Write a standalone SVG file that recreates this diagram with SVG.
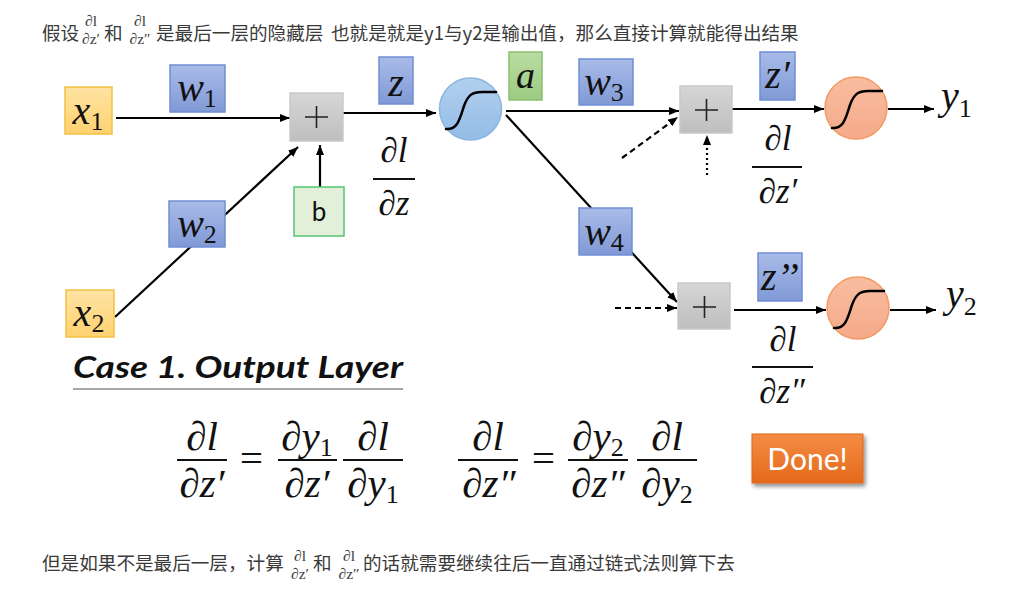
<svg xmlns="http://www.w3.org/2000/svg" width="1015" height="604" viewBox="0 0 1015 604">
<defs>
<linearGradient id="gX" x1="0" y1="0" x2="0" y2="1"><stop offset="0" stop-color="#FFE3A3"/><stop offset="1" stop-color="#FFD270"/></linearGradient>
<linearGradient id="gW" x1="0" y1="0" x2="0" y2="1"><stop offset="0" stop-color="#A9BBE8"/><stop offset="1" stop-color="#8099D6"/></linearGradient>
<linearGradient id="gP" x1="0" y1="0" x2="0" y2="1"><stop offset="0" stop-color="#D6D6D6"/><stop offset="1" stop-color="#BEBEBE"/></linearGradient>
<linearGradient id="gA" x1="0" y1="0" x2="0" y2="1"><stop offset="0" stop-color="#B9DCA2"/><stop offset="1" stop-color="#9CCB82"/></linearGradient>
<linearGradient id="gS" x1="0" y1="0" x2="0" y2="1"><stop offset="0" stop-color="#B2D0EE"/><stop offset="1" stop-color="#93BCE6"/></linearGradient>
<linearGradient id="gO" x1="0" y1="0" x2="0" y2="1"><stop offset="0" stop-color="#F9BDA0"/><stop offset="1" stop-color="#F5A98A"/></linearGradient>
<linearGradient id="gD" x1="0" y1="0" x2="0" y2="1"><stop offset="0" stop-color="#F38C44"/><stop offset="1" stop-color="#E5691B"/></linearGradient>
<filter id="shadow" x="-20%" y="-20%" width="150%" height="160%"><feGaussianBlur in="SourceAlpha" stdDeviation="2"/><feOffset dx="2" dy="3" result="b"/><feComponentTransfer><feFuncA type="linear" slope="0.45"/></feComponentTransfer><feMerge><feMergeNode/><feMergeNode in="SourceGraphic"/></feMerge></filter>
<marker id="arr" viewBox="0 0 10 8" markerWidth="10" markerHeight="8" refX="10" refY="4" orient="auto" markerUnits="userSpaceOnUse"><path d="M0,0 L10,4 L0,8 z" fill="#000"/></marker>
</defs>
<style>
.cjk{font-family:"Noto Sans CJK SC","Noto Sans",sans-serif;font-size:18.6px;fill:#3a3a3a}
.tm{font-family:"Liberation Serif",serif;font-size:15.5px;fill:#3a3a3a;text-anchor:middle}
.m{font-family:"Liberation Serif","DejaVu Serif",serif;font-style:italic;fill:#111}
.lab{font-size:40px;text-anchor:middle}
.sub{font-style:normal;font-size:26px}
.fr{font-size:35px;text-anchor:middle}
.eq{font-size:41px;text-anchor:middle}
.xbox{fill:url(#gX);stroke:#F4C046;stroke-width:1.5}
.wbox{fill:url(#gW);stroke:#6F8ED6;stroke-width:1.5}
.pbox{fill:url(#gP);stroke:#C9C9C9;stroke-width:1.5}
.plus{stroke:#222;stroke-width:1.6;fill:none}
.sig{stroke:#000;stroke-width:2.5;fill:none;stroke-linecap:round}
.ln{stroke:#000;stroke-width:2.2;fill:none}
.bar{stroke:#111;stroke-width:2}
</style>

<!-- top text -->
<g id="top-text">
<text class="cjk" x="42" y="40">假设</text>
<text class="tm" x="91" y="26">∂l</text>
<text class="tm" x="91" y="44">∂z′</text>
<text class="cjk" x="104" y="40">和</text>
<text class="tm" x="140" y="26">∂l</text>
<text class="tm" x="140" y="44">∂z″</text>
<text class="cjk" x="156" y="40">是最后一层的隐藏层</text>
<text class="cjk" x="331" y="40">也就是就是y1与y2是输出值，那么直接计算就能得出结果</text>
</g>

<!-- connectors -->
<g id="connectors">
<line class="ln" x1="116" y1="118" x2="290" y2="118" marker-end="url(#arr)"/>
<line class="ln" x1="115" y1="317" x2="298" y2="147" marker-end="url(#arr)"/>
<line class="ln" x1="320" y1="187" x2="320" y2="145" marker-end="url(#arr)"/>
<line class="ln" x1="343" y1="113" x2="436" y2="113" marker-end="url(#arr)"/>
<line class="ln" x1="506" y1="111" x2="679" y2="111" marker-end="url(#arr)"/>
<line class="ln" x1="506" y1="115" x2="677" y2="302" marker-end="url(#arr)"/>
<line class="ln" x1="622" y1="158" x2="678" y2="117" stroke-dasharray="6 4" marker-end="url(#arr)"/>
<line class="ln" x1="707" y1="175" x2="707" y2="135" stroke-dasharray="2 3" marker-end="url(#arr)"/>
<line class="ln" x1="615" y1="308" x2="677" y2="308" stroke-dasharray="6 4" marker-end="url(#arr)"/>
<line class="ln" x1="732" y1="109" x2="824" y2="109" marker-end="url(#arr)"/>
<line class="ln" x1="888" y1="109" x2="934" y2="109" marker-end="url(#arr)"/>
<line class="ln" x1="734" y1="310" x2="826" y2="310" marker-end="url(#arr)"/>
<line class="ln" x1="890" y1="310" x2="936" y2="310" marker-end="url(#arr)"/>
</g>

<g id="x1"><rect class="xbox" x="65" y="87" width="47" height="47"/><text class="m lab" x="88" y="124">x<tspan class="sub" dy="6">1</tspan></text></g>
<g id="x2"><rect class="xbox" x="66" y="290" width="48" height="47"/><text class="m lab" x="89" y="326">x<tspan class="sub" dy="6">2</tspan></text></g>
<g id="w1"><rect class="wbox" x="170" y="65" width="55" height="47"/><text class="m lab" x="197" y="101">w<tspan class="sub" dy="6">1</tspan></text></g>
<g id="w2"><rect class="wbox" x="169" y="201" width="56" height="46"/><text class="m lab" x="197" y="237">w<tspan class="sub" dy="6">2</tspan></text></g>
<g id="plus1"><rect class="pbox" x="290" y="93" width="53" height="48"/><path class="plus" d="M305,117 H328 M316.5,106 V128"/></g>
<g id="b"><rect x="294" y="187" width="50" height="49" fill="#E2F0D9" stroke="#54C473" stroke-width="1.5"/><text x="319" y="221" font-family="Lato,'Liberation Sans',sans-serif" font-size="26" text-anchor="middle" fill="#111">b</text></g>
<g id="z"><rect class="wbox" x="379" y="57" width="34" height="47"/><text class="m lab" x="396" y="96">z</text></g>
<g id="dldz"><text class="m fr" x="394" y="162">∂l</text><line class="bar" x1="373" y1="179" x2="415" y2="179"/><text class="m fr" x="394" y="215">∂z</text></g>
<g id="sigmoid1"><circle cx="470.5" cy="109" r="31" fill="url(#gS)" stroke="#8DB5E2" stroke-width="1.5"/><path class="sig" d="M446,129 C458,130 460,118 464,106 C468,95 472,92 482,92 L496,92"/></g>
<g id="a"><rect x="509" y="52" width="33" height="48" fill="url(#gA)" stroke="#8BC06E" stroke-width="1.5"/><text class="m" x="525.5" y="88" font-size="38" text-anchor="middle">a</text></g>
<g id="w3"><rect class="wbox" x="579" y="59" width="54" height="46"/><text class="m lab" x="604" y="95">w<tspan class="sub" dy="6">3</tspan></text></g>
<g id="w4"><rect class="wbox" x="579" y="208" width="53" height="47"/><text class="m lab" x="604" y="245">w<tspan class="sub" dy="6">4</tspan></text></g>
<g id="plus2"><rect class="pbox" x="680" y="86" width="52" height="47"/><path class="plus" d="M695,110 H718 M706.5,99 V121"/></g>
<g id="plus3"><rect class="pbox" x="678" y="283" width="52" height="46"/><path class="plus" d="M693,307 H716 M704.5,296 V318"/></g>
<g id="zp"><rect class="wbox" x="760" y="52" width="35" height="48"/><text class="m lab" x="777.5" y="88">z′</text></g>
<g id="zpp"><rect class="wbox" x="758" y="253" width="44" height="48"/><text class="m lab" x="780" y="290">z’’</text></g>
<g id="dldzp"><text class="m fr" x="778" y="150">∂l</text><line class="bar" x1="752" y1="167" x2="802" y2="167"/><text class="m fr" x="778" y="203">∂z′</text></g>
<g id="dldzpp"><text class="m fr" x="783" y="351">∂l</text><line class="bar" x1="752" y1="367" x2="813" y2="367"/><text class="m fr" x="782" y="403">∂z″</text></g>
<g id="sigmoid2"><circle cx="856" cy="108" r="31" fill="url(#gO)" stroke="#F39A62" stroke-width="1.5"/><path class="sig" d="M832,128 C844,129 846,117 850,105 C854,94 858,91 868,91 L882,91"/></g>
<g id="sigmoid3"><circle cx="858" cy="308" r="31" fill="url(#gO)" stroke="#F39A62" stroke-width="1.5"/><path class="sig" d="M834,328 C846,329 848,317 852,305 C856,294 860,291 870,291 L884,291"/></g>
<g id="y1"><text class="m" x="941" y="109" font-size="40">y<tspan class="sub" dy="8">1</tspan></text></g>
<g id="y2"><text class="m" x="946" y="307" font-size="40">y<tspan class="sub" dy="8">2</tspan></text></g>

<g id="case-title"><text x="73" y="378" font-family="Lato,'Liberation Sans',sans-serif" font-weight="700" font-style="italic" font-size="30" fill="#111" textLength="330" lengthAdjust="spacingAndGlyphs">Case 1. Output Layer</text><line x1="73" y1="389" x2="403" y2="389" stroke="#8a8a8a" stroke-width="1.5"/></g>

<g id="eq1">
<text class="m eq" x="202" y="450">∂l</text><line class="bar" x1="177" y1="460" x2="227" y2="460"/><text class="m eq" x="202" y="497">∂z′</text>
<text class="m eq" x="251" y="472" font-style="normal">=</text>
<text class="m eq" x="307" y="450">∂y<tspan class="sub" font-size="28" dy="6">1</tspan></text><line class="bar" x1="278" y1="460" x2="337" y2="460"/><text class="m eq" x="307" y="497">∂z′</text>
<text class="m eq" x="373" y="450">∂l</text><line class="bar" x1="343" y1="460" x2="403" y2="460"/><text class="m eq" x="373" y="497">∂y<tspan class="sub" font-size="28" dy="6">1</tspan></text>
</g>
<g id="eq2">
<text class="m eq" x="488" y="450">∂l</text><line class="bar" x1="458" y1="460" x2="518" y2="460"/><text class="m eq" x="489" y="497">∂z″</text>
<text class="m eq" x="543" y="472" font-style="normal">=</text>
<text class="m eq" x="598" y="450">∂y<tspan class="sub" font-size="28" dy="6">2</tspan></text><line class="bar" x1="568" y1="460" x2="628" y2="460"/><text class="m eq" x="598" y="497">∂z″</text>
<text class="m eq" x="667" y="450">∂l</text><line class="bar" x1="637" y1="460" x2="697" y2="460"/><text class="m eq" x="667" y="497">∂y<tspan class="sub" font-size="28" dy="6">2</tspan></text>
</g>

<g id="done"><rect x="752" y="434" width="111" height="49" fill="url(#gD)" stroke="#E0661A" stroke-width="1" filter="url(#shadow)"/><text x="807.5" y="470" font-family="Lato,'Liberation Sans',sans-serif" font-size="30" fill="#fff" text-anchor="middle">Done!</text></g>

<g id="bottom-text">
<text class="cjk" x="42" y="570">但是如果不是最后一层，计算</text>
<text class="tm" x="300" y="561">∂l</text>
<text class="tm" x="300" y="579">∂z′</text>
<text class="cjk" x="313" y="570">和</text>
<text class="tm" x="349" y="561">∂l</text>
<text class="tm" x="349" y="579">∂z″</text>
<text class="cjk" x="363" y="570">的话就需要继续往后一直通过链式法则算下去</text>
</g>
</svg>
